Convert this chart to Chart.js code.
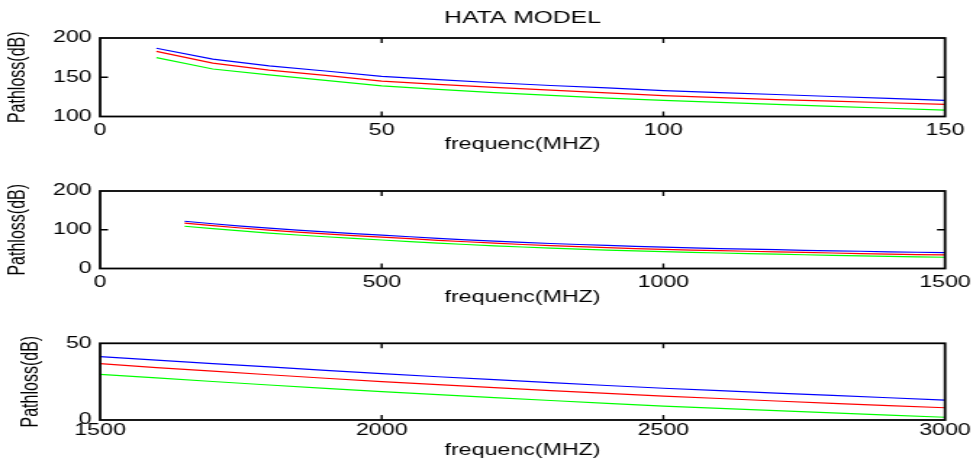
<!DOCTYPE html>
<html>
<head>
<meta charset="utf-8">
<script src="https://cdn.jsdelivr.net/npm/chart.js@4.4.0/dist/chart.umd.min.js"></script>
<style>
  body { margin: 0; background: #fff; }
  #wrap { position: relative; width: 973px; height: 461px; overflow: hidden; }
  canvas { position: absolute; left: 0; }
</style>
</head>
<body>
<div id="wrap">
  <!-- canvases are drawn narrow and stretched wide, like the original figure -->
  <canvas id="c1" width="671" height="160" style="top:0;width:973px;height:160px"></canvas>
  <canvas id="c2" width="671" height="152" style="top:160px;width:973px;height:152px"></canvas>
  <canvas id="c3" width="671" height="149" style="top:312px;width:973px;height:149px"></canvas>
</div>
<script>
// panel 1: 10 - 150 MHz
const freq1 = [10, 20, 30, 40, 50, 60, 70, 80, 90, 100, 110, 120, 130, 140, 150];
const blue1 = [187, 173, 164.5, 158, 151, 147, 143, 139.5, 136.5, 133, 130.5, 128, 125.5, 123, 120.5];
const red1 = [183, 168, 159, 152.5, 145, 141, 137, 133.5, 130, 126.5, 124, 121.5, 119.5, 117.5, 115.5];
const green1 = [175, 160.5, 153, 146, 139, 134.5, 130.5, 127, 123.5, 120.5, 118, 115.5, 113, 110.5, 108];

// panel 2: 150 - 1500 MHz
const freq2 = [150, 200, 250, 300, 350, 400, 450, 500, 550, 600, 650, 700, 750, 800, 850, 900, 950, 1000,
  1050, 1100, 1150, 1200, 1250, 1300, 1350, 1400, 1450, 1500];
const blue2 = [122, 115.5, 109.5, 104, 99, 94.5, 90, 86, 82, 77.5, 74, 70.5, 67.5, 64.5, 62, 59.5, 57, 55,
  53, 51.5, 50, 48.5, 47, 45.5, 44.5, 43, 42, 41];
const red2 = [117, 110.5, 104.5, 99, 94, 89.5, 85, 81, 77, 72.5, 69, 65.5, 62, 59, 56.5, 54, 51.5, 49.5,
  47.5, 46, 44.5, 43, 41.5, 40, 38.5, 37, 36, 35];
const green2 = [109, 103, 97, 91.5, 86.5, 82, 77.5, 73.5, 69.5, 65.5, 62, 58.5, 55.5, 52.5, 50, 47.5, 45.5, 43.5,
  41.5, 40, 38.5, 37, 35.5, 34, 32.5, 31.5, 30, 29];

// panel 3: 1500 - 3000 MHz
const freq3 = [1500, 1600, 1700, 1800, 1900, 2000, 2100, 2200, 2300, 2400, 2500, 2600, 2700, 2800, 2900, 3000];
const blue3 = [41.3, 39, 36.8, 34.6, 32.3, 30.2, 28.2, 26.3, 24.4, 22.5, 20.7, 19.1, 17.5, 16, 14.5, 13];
const red3 = [36.7, 34.2, 31.8, 29.5, 27.2, 25, 23, 21.1, 19.2, 17.4, 15.6, 14, 12.4, 10.9, 9.4, 8];
const green3 = [29.8, 27.4, 25.1, 22.8, 20.6, 18.5, 16.5, 14.6, 12.7, 10.9, 9.1, 7.6, 6.1, 4.6, 3.2, 1.8];

const xTitle = 'frequenc(MHZ)';
const yTitle = 'Pathloss(dB)';
const mainTitle = 'HATA MODEL';

const FONT = "'Liberation Sans', Arial, sans-serif";
Chart.defaults.font.family = FONT;
Chart.defaults.color = '#000';

// matlab style box with inward ticks
const boxTicks = {
  id: 'boxTicks',
  afterDraw(chart) {
    const { ctx, chartArea: a, scales } = chart;
    const x = scales.x, y = scales.y;
    ctx.save();
    ctx.strokeStyle = '#000';
    ctx.lineWidth = 1.4;
    ctx.beginPath();
    x.ticks.forEach(t => {
      const px = x.getPixelForValue(t.value);
      if (px > a.left + 1 && px < a.right - 1) {
        ctx.moveTo(px, a.bottom); ctx.lineTo(px, a.bottom - 5);
        ctx.moveTo(px, a.top); ctx.lineTo(px, a.top + 5);
      }
    });
    y.ticks.forEach(t => {
      const py = y.getPixelForValue(t.value);
      if (py > a.top + 1 && py < a.bottom - 1) {
        ctx.moveTo(a.left, py); ctx.lineTo(a.left + 5.5, py);
        ctx.moveTo(a.right, py); ctx.lineTo(a.right - 5.5, py);
      }
    });
    ctx.stroke();
    ctx.lineWidth = 1.8;
    ctx.strokeRect(a.left, a.top, a.width, a.height);
    ctx.restore();
  }
};

function pts(xs, ys) {
  return xs.map((v, i) => ({ x: v, y: ys[i] }));
}

function makePanel(id, xs, series, p) {
  const colors = ['#0000ff', '#ff0000', '#00ff00'];
  const scales = {
    x: {
      type: 'linear', position: 'bottom', min: p.xmin, max: p.xmax,
      ticks: { stepSize: p.xstep, autoSkip: false, maxRotation: 0, padding: p.xTickPad,
        font: { size: 16 }, color: '#000', callback: v => String(v) },
      grid: { display: false, drawTicks: false },
      border: { display: false },
      title: { display: true, text: xTitle, color: '#000', font: { size: 16 },
        padding: { top: 0, bottom: p.xTitlePad } },
      afterFit(s) { s.height = p.xh; s.paddingLeft = 0; s.paddingRight = 0; }
    },
    y: {
      type: 'linear', min: p.ymin, max: p.ymax,
      ticks: { stepSize: p.ystep, padding: 5.8, font: { size: 16 }, color: '#000', callback: v => String(v) },
      grid: { display: false, drawTicks: false },
      border: { display: false },
      title: { display: true, text: yTitle, color: '#000', font: { size: 16 },
        padding: { top: p.yTitlePad, bottom: 0 } },
      afterFit(s) { s.width = 69; s.paddingTop = 0; s.paddingBottom = 0; }
    }
  };
  if (p.title) {
    // empty top axis only to hold the title centred over the plot
    scales.xt = {
      type: 'linear', position: 'top', min: 0, max: 1,
      ticks: { display: false },
      grid: { display: false, drawTicks: false },
      border: { display: false },
      title: { display: true, text: p.title, color: '#000', font: { size: 17 },
        padding: { top: 8.3, bottom: 0 } },
      afterFit(s) { s.height = 38; s.paddingLeft = 0; s.paddingRight = 0; }
    };
  }
  return new Chart(document.getElementById(id), {
    type: 'line',
    data: {
      datasets: series.map((ys, i) => ({
        data: pts(xs, ys),
        borderColor: colors[i],
        borderWidth: 1.2,
        pointRadius: 0,
        tension: 0,
        fill: false
      }))
    },
    options: {
      responsive: false,
      devicePixelRatio: 1,
      animation: false,
      layout: { padding: { top: p.padTop, right: 19.3, bottom: 0, left: 0 } },
      plugins: { legend: { display: false }, tooltip: { enabled: false } },
      scales: scales
    },
    plugins: [boxTicks]
  });
}

makePanel('c1', freq1, [blue1, red1, green1], {
  xmin: 0, xmax: 150, xstep: 50, ymin: 100, ymax: 200, ystep: 50,
  xh: 43.5, padTop: 0, xTickPad: 4, xTitlePad: 5.9, yTitlePad: 3, title: mainTitle
});
makePanel('c2', freq2, [blue2, red2, green2], {
  xmin: 0, xmax: 1500, xstep: 500, ymin: 0, ymax: 200, ystep: 100,
  xh: 43.5, padTop: 31, xTickPad: 4.4, xTitlePad: 4.9, yTitlePad: 3
});
makePanel('c3', freq3, [blue3, red3, green3], {
  xmin: 1500, xmax: 3000, xstep: 500, ymin: 0, ymax: 50, ystep: 50,
  xh: 41, padTop: 31.3, xTickPad: 1.2, xTitlePad: 0.6, yTitlePad: 12.3
});
</script>
</body>
</html>
